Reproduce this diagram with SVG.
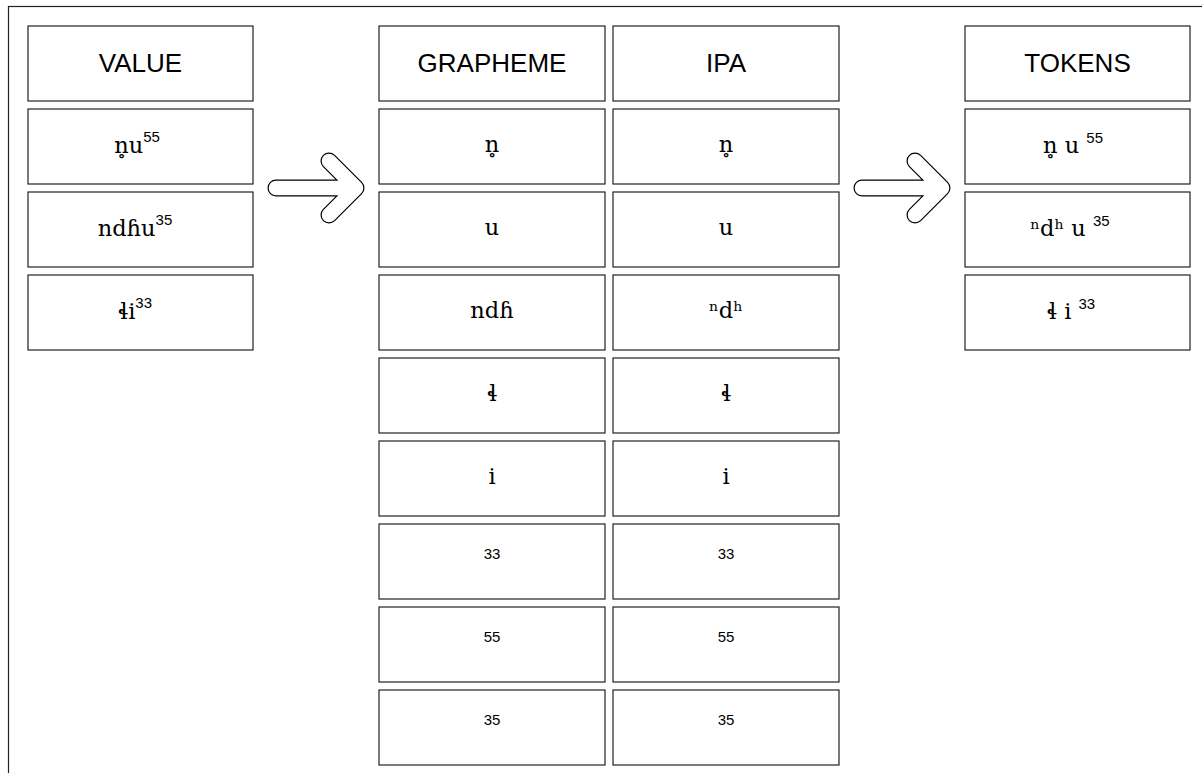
<svg xmlns="http://www.w3.org/2000/svg" width="1202" height="773" viewBox="0 0 1202 773">
<style>
.box{fill:#fff;stroke:#222;stroke-width:1.2}
.hd{font-family:"Liberation Sans",Arial,sans-serif;font-size:26px;text-anchor:middle;fill:#000}
.sf{font-family:"DejaVu Serif",serif;font-size:22.5px;text-anchor:middle;fill:#000}
.num{font-family:"Liberation Sans",Arial,sans-serif;font-size:15px;text-anchor:middle;fill:#000}
.sup{font-family:"Liberation Sans",Arial,sans-serif;font-size:15px}
.ao{fill:none;stroke:#000;stroke-width:17;stroke-linecap:round;stroke-linejoin:round}
.ai{fill:none;stroke:#fff;stroke-width:14.6;stroke-linecap:round;stroke-linejoin:round}
</style>
<rect x="8.5" y="6.5" width="1220" height="800" fill="#fff" stroke="#222" stroke-width="1.2"/>
<g id="connectors">
<g id="arrow1"><path class="ao" d="M276,188 H356 M329,161 L356,188 L329,215"/><path class="ai" d="M276,188 H356 M329,161 L356,188 L329,215"/></g>
<g id="arrow2"><path class="ao" d="M862,188 H942 M915,161 L942,188 L915,215"/><path class="ai" d="M862,188 H942 M915,161 L942,188 L915,215"/></g>
</g>
<g id="value-col">
<g id="value-h"><rect class="box" x="28" y="26" width="225" height="75"/><text class="hd" x="140.5" y="72">VALUE</text></g>
<g id="value-1"><rect class="box" x="28" y="109" width="225" height="75"/><text class="sf" x="137" y="153">n̥u<tspan class="sup" dy="-11">55</tspan></text></g>
<g id="value-2"><rect class="box" x="28" y="192" width="225" height="75"/><text class="sf" x="135" y="236">ndɦu<tspan class="sup" dy="-11">35</tspan></text></g>
<g id="value-3"><rect class="box" x="28" y="275" width="225" height="75"/><text class="sf" x="135" y="319">ɬi<tspan class="sup" dy="-11">33</tspan></text></g>
</g>
<g id="grapheme-col">
<g id="g-h"><rect class="box" x="379" y="26" width="226" height="75"/><text class="hd" x="492" y="72">GRAPHEME</text></g>
<g id="g-1"><rect class="box" x="379" y="109" width="226" height="75"/><text class="sf" x="492" y="152">n̥</text></g>
<g id="g-2"><rect class="box" x="379" y="192" width="226" height="75"/><text class="sf" x="492" y="235">u</text></g>
<g id="g-3"><rect class="box" x="379" y="275" width="226" height="75"/><text class="sf" x="492" y="318">ndɦ</text></g>
<g id="g-4"><rect class="box" x="379" y="358" width="226" height="75"/><text class="sf" x="492" y="401">ɬ</text></g>
<g id="g-5"><rect class="box" x="379" y="441" width="226" height="75"/><text class="sf" x="492" y="484">i</text></g>
<g id="g-6"><rect class="box" x="379" y="524" width="226" height="75"/><text class="num" x="492" y="559">33</text></g>
<g id="g-7"><rect class="box" x="379" y="607" width="226" height="75"/><text class="num" x="492" y="642">55</text></g>
<g id="g-8"><rect class="box" x="379" y="690" width="226" height="75"/><text class="num" x="492" y="725">35</text></g>
</g>
<g id="ipa-col">
<g id="i-h"><rect class="box" x="613" y="26" width="226" height="75"/><text class="hd" x="726" y="72">IPA</text></g>
<g id="i-1"><rect class="box" x="613" y="109" width="226" height="75"/><text class="sf" x="726" y="152">n̥</text></g>
<g id="i-2"><rect class="box" x="613" y="192" width="226" height="75"/><text class="sf" x="726" y="235">u</text></g>
<g id="i-3"><rect class="box" x="613" y="275" width="226" height="75"/><text class="sf" x="726" y="318">ⁿdʰ</text></g>
<g id="i-4"><rect class="box" x="613" y="358" width="226" height="75"/><text class="sf" x="726" y="401">ɬ</text></g>
<g id="i-5"><rect class="box" x="613" y="441" width="226" height="75"/><text class="sf" x="726" y="484">i</text></g>
<g id="i-6"><rect class="box" x="613" y="524" width="226" height="75"/><text class="num" x="726" y="559">33</text></g>
<g id="i-7"><rect class="box" x="613" y="607" width="226" height="75"/><text class="num" x="726" y="642">55</text></g>
<g id="i-8"><rect class="box" x="613" y="690" width="226" height="75"/><text class="num" x="726" y="725">35</text></g>
</g>
<g id="tokens-col">
<g id="t-h"><rect class="box" x="965" y="26" width="225" height="75"/><text class="hd" x="1077.5" y="72">TOKENS</text></g>
<g id="t-1"><rect class="box" x="965" y="109" width="225" height="75"/><text class="sf" x="1073" y="153">n̥ u <tspan class="sup" dy="-10">55</tspan></text></g>
<g id="t-2"><rect class="box" x="965" y="192" width="225" height="75"/><text class="sf" x="1070" y="236">ⁿdʰ u <tspan class="sup" dy="-10">35</tspan></text></g>
<g id="t-3"><rect class="box" x="965" y="275" width="225" height="75"/><text class="sf" x="1071" y="319">ɬ i <tspan class="sup" dy="-10">33</tspan></text></g>
</g>
</svg>
